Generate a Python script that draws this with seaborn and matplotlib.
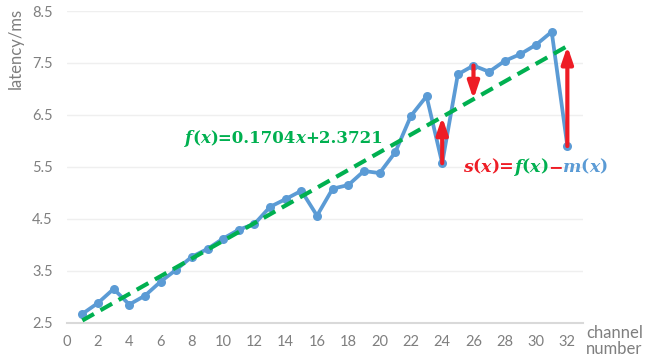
import matplotlib
matplotlib.use("Agg")
import matplotlib.pyplot as plt
import seaborn as sns
import pandas as pd

# Measured latency per channel
channels = list(range(1, 33))
latency = [2.67, 2.88, 3.15, 2.85, 3.02, 3.29, 3.52, 3.77, 3.92, 4.12,
           4.29, 4.40, 4.73, 4.88, 5.04, 4.56, 5.08, 5.15, 5.42, 5.38,
           5.78, 6.48, 6.86, 5.57, 7.28, 7.45, 7.33, 7.54, 7.67, 7.85,
           8.10, 5.90]

# Linear fit f(x) = slope * x + intercept
slope = 0.1704
intercept = 2.3721

# Channels where the residual s(x) = f(x) - m(x) is marked
residual_channels = [24, 26, 32]

x_ticks = list(range(0, 33, 2))
y_ticks = [2.5, 3.5, 4.5, 5.5, 6.5, 7.5, 8.5]

BLUE = "#5B9BD5"
GREEN = "#00B050"
RED = "#EE1C25"
GRAY = "#7F7F7F"

sns.set_theme(style="white")
plt.rcParams["font.family"] = ["Lato", "DejaVu Sans"]

df = pd.DataFrame({"channel": channels, "latency": latency})
df["fit"] = slope * df["channel"] + intercept

fig = plt.figure(figsize=(6.46, 3.63), dpi=100)
ax = fig.add_axes([66.7 / 646, 40.3 / 363, (583 - 66.7) / 646, (322.7 - 11) / 363])

sns.lineplot(data=df, x="channel", y="latency", ax=ax, color=BLUE,
             linewidth=2.7, marker="o", markersize=6.5, markeredgewidth=0,
             zorder=3)
sns.lineplot(data=df, x="channel", y="fit", ax=ax, color=GREEN,
             linewidth=3.0, dashes=False, zorder=4)
ax.lines[-1].set_dashes((3.2, 1.8))

# Residual arrows from measured value to fitted value
for c in residual_channels:
    m = latency[channels.index(c)]
    f = slope * c + intercept
    ax.annotate("", xy=(c, f), xytext=(c, m),
                arrowprops=dict(arrowstyle="-|>,head_length=0.5,head_width=0.17",
                                color=RED, lw=3.0, shrinkA=0, shrinkB=0,
                                mutation_scale=20),
                zorder=5)

ax.set_xlim(0, 33)
ax.set_ylim(2.5, 8.5)
ax.set_xticks(x_ticks)
ax.set_yticks(y_ticks)
ax.set_xticklabels([str(t) for t in x_ticks])
ax.set_yticklabels([f"{t:.1f}" for t in y_ticks])
ax.tick_params(axis="both", length=0, labelsize=10.5, colors=GRAY)
ax.tick_params(axis="x", pad=9)
ax.tick_params(axis="y", pad=10)
ax.set_xlabel("")
ax.set_ylabel("")

ax.grid(axis="y", color="#EFEFEF", linewidth=1.0)
ax.grid(axis="x", visible=False)
for side in ["top", "right", "left"]:
    ax.spines[side].set_visible(False)
ax.spines["bottom"].set_color("#D9D9D9")
ax.spines["bottom"].set_linewidth(1.5)
ax.set_axisbelow(True)

fig.text(16 / 646, 1 - 48 / 363, "latency/ms", rotation=90, ha="center",
         va="center", fontsize=12, color=GRAY)
fig.text(586 / 646, 1 - 341 / 363, "channel\nnumber", ha="left", va="center",
         fontsize=12, color=GRAY, linespacing=1.0)


def colored_text(x, y, pieces, size=12):
    prev = None
    for txt, color, italic in pieces:
        kw = dict(fontsize=size, color=color, fontweight="bold",
                  fontstyle="italic" if italic else "normal",
                  family=["DejaVu Serif"], va="bottom", ha="left", zorder=6)
        if prev is None:
            prev = ax.text(x, y, txt, **kw)
        else:
            prev = ax.annotate(txt, xy=(1, 0), xycoords=prev, **kw)


colored_text(7.57, 5.88, [
    ("f", GREEN, True), ("(", GREEN, False), ("x", GREEN, True),
    (")=0.1704", GREEN, False), ("x", GREEN, True), ("+2.3721", GREEN, False),
])

colored_text(25.3, 5.33, [
    ("s", RED, True), ("(", RED, False), ("x", RED, True), (")=", RED, False),
    ("f", GREEN, True), ("(", GREEN, False), ("x", GREEN, True), (")", GREEN, False),
    ("\u2212", RED, False),
    ("m", BLUE, True), ("(", BLUE, False), ("x", BLUE, True), (")", BLUE, False),
], size=12.5)

fig.savefig("out.png", dpi=100)
